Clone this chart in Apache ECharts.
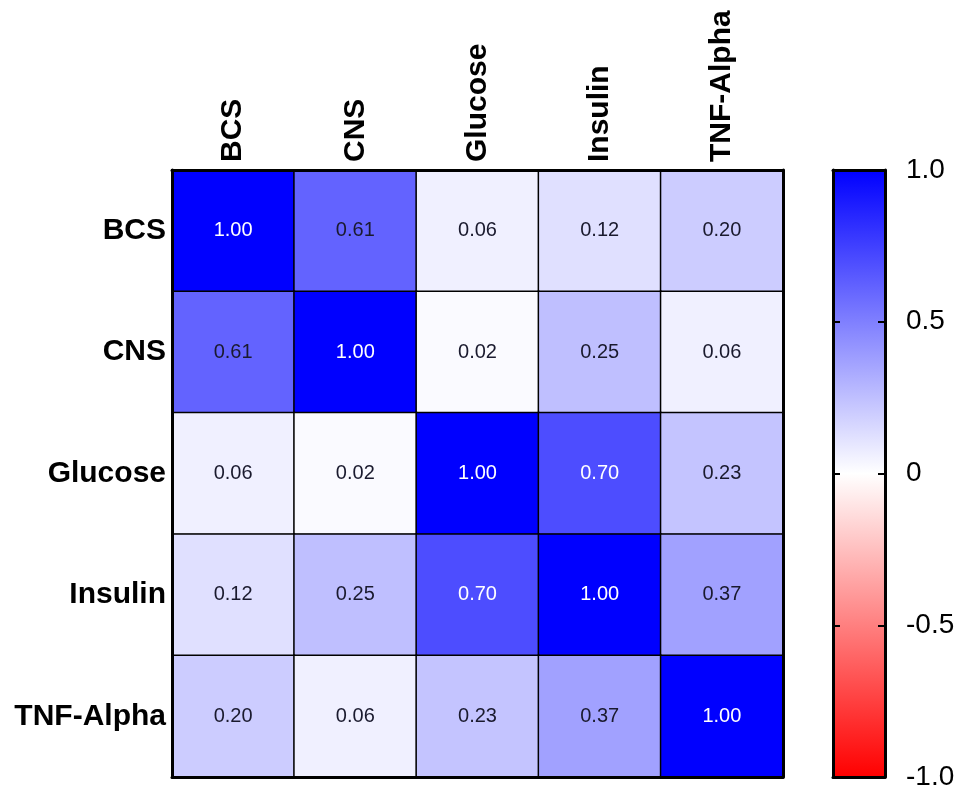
<!DOCTYPE html>
<html><head><meta charset="utf-8">
<script src="https://cdn.jsdelivr.net/npm/echarts@6/dist/echarts.min.js"></script>
<style>html,body{margin:0;padding:0;background:#fff}#c{width:962px;height:793px}</style>
</head><body><div id="c"></div>
<script>
var categories = ['BCS', 'CNS', 'Glucose', 'Insulin', 'TNF-Alpha'];
var rowBCS = [1.00, 0.61, 0.06, 0.12, 0.20];
var rowCNS = [0.61, 1.00, 0.02, 0.25, 0.06];
var rowGlucose = [0.06, 0.02, 1.00, 0.70, 0.23];
var rowInsulin = [0.12, 0.25, 0.70, 1.00, 0.37];
var rowTNF = [0.20, 0.06, 0.23, 0.37, 1.00];
var colorbarTicks = [-1.0, -0.5, 0, 0.5, 1.0];

var rows = [rowBCS, rowCNS, rowGlucose, rowInsulin, rowTNF];
var data = [];
rows.forEach(function (r, yi) {
  r.forEach(function (v, xi) {
    data.push({ value: [xi, yi, v], label: { color: v > 0.65 ? '#ffffff' : '#1a1a2e' } });
  });
});
var font = 'Liberation Sans, Arial, sans-serif';
var chart = echarts.init(document.getElementById('c'));
var gL = 172, gT = 170, gW = 611, gH = 607;
var frame = { onZero: false, lineStyle: { color: '#000', width: 3 } };
chart.setOption({
  backgroundColor: '#fff',
  animation: false,
  grid: [
    { left: gL, top: gT, width: gW, height: gH },
    { left: 833, top: gT, width: 52, height: gH }
  ],
  xAxis: [
    { type: 'category', data: categories, position: 'top', gridIndex: 0, z: 10,
      axisLine: frame, axisTick: { show: false },
      axisLabel: { rotate: -90, fontSize: 30, fontWeight: 'bold', color: '#000', fontFamily: font, margin: 8 } },
    { type: 'category', data: categories, position: 'bottom', gridIndex: 0, z: 10,
      axisLine: frame, axisTick: { show: false }, axisLabel: { show: false } },
    { type: 'category', data: [''], gridIndex: 1, position: 'top', z: 10,
      axisLine: frame, axisTick: { show: false }, axisLabel: { show: false } },
    { type: 'category', data: [''], gridIndex: 1, position: 'bottom', z: 10,
      axisLine: frame, axisTick: { show: false }, axisLabel: { show: false } }
  ],
  yAxis: [
    { type: 'category', data: categories, inverse: true, gridIndex: 0, position: 'left', z: 10,
      axisLine: frame, axisTick: { show: false },
      axisLabel: { fontSize: 30, fontWeight: 'bold', color: '#000', fontFamily: font, margin: 6 } },
    { type: 'category', data: categories, inverse: true, gridIndex: 0, position: 'right', z: 10,
      axisLine: frame, axisTick: { show: false }, axisLabel: { show: false } },
    { type: 'value', min: colorbarTicks[0], max: colorbarTicks[4], interval: 0.5, gridIndex: 1, position: 'right', z: 10,
      axisLine: { show: true, onZero: false, lineStyle: { color: '#000', width: 3 } },
      axisTick: { show: true, inside: true, length: 7, lineStyle: { color: '#000', width: 2 } },
      splitLine: { show: false },
      axisLabel: { fontSize: 28, color: '#000', fontFamily: font, margin: 21,
        formatter: function (v) { return v === 0 ? '0' : v.toFixed(1); } } },
    { type: 'value', min: colorbarTicks[0], max: colorbarTicks[4], interval: 0.5, gridIndex: 1, position: 'left', z: 10,
      axisLine: { show: true, onZero: false, lineStyle: { color: '#000', width: 3 } },
      axisTick: { show: true, inside: true, length: 7, lineStyle: { color: '#000', width: 2 } },
      splitLine: { show: false }, axisLabel: { show: false } }
  ],
  visualMap: {
    show: false, min: -1, max: 1, seriesIndex: 0, dimension: 2,
    inRange: { color: ['#ff0000', '#ffffff', '#0000ff'] }
  },
  series: [
    { type: 'heatmap', xAxisIndex: 0, yAxisIndex: 0, data: data,
      itemStyle: { borderColor: '#000', borderWidth: 1.5 },
      label: { show: true, fontSize: 20, fontFamily: font,
        formatter: function (p) { return p.value[2].toFixed(2); } } },
    { type: 'custom', xAxisIndex: 2, yAxisIndex: 2, data: [[0, -1, 1]],
      renderItem: function (params, api) {
        var p0 = api.coord([0, 1]);
        var p1 = api.coord([0, -1]);
        var w = api.size([1, 0])[0];
        return { type: 'rect',
          shape: { x: p0[0] - w / 2, y: p0[1], width: w, height: p1[1] - p0[1] },
          style: { fill: new echarts.graphic.LinearGradient(0, 0, 0, 1, [
            { offset: 0, color: '#0000ff' }, { offset: 0.5, color: '#ffffff' }, { offset: 1, color: '#ff0000' }]) } };
      } }
  ]
});
</script></body></html>
